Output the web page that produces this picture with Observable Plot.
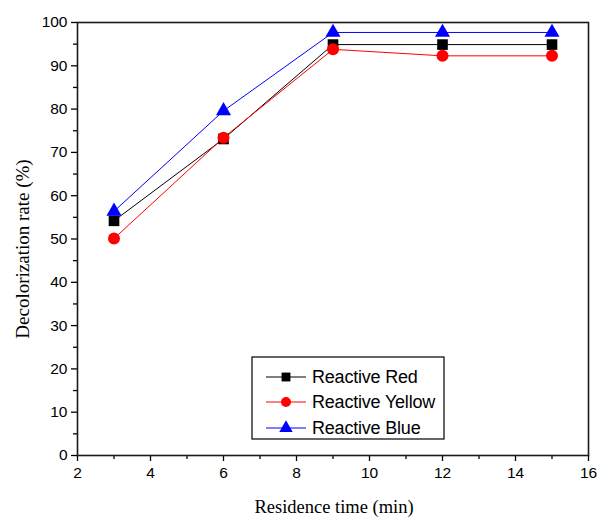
<!DOCTYPE html>
<html>
<head>
<meta charset="utf-8">
<script src="https://cdn.jsdelivr.net/npm/d3@7"></script>
<script src="https://cdn.jsdelivr.net/npm/@observablehq/plot@0.6"></script>
<style>
  html, body { margin: 0; padding: 0; background: #fff; }
  #wrap { position: relative; width: 597px; height: 517px; }
  #legend { position: absolute; left: 0; top: 0; }
</style>
</head>
<body>
<div id="wrap"></div>
<script>
const times = [3, 6, 9, 12, 15];
const reactiveRed = [54.2, 73.1, 94.9, 94.9, 94.9];
const reactiveYellow = [50.1, 73.4, 93.8, 92.3, 92.3];
const reactiveBlue = [56.4, 79.6, 97.7, 97.7, 97.7];
const seriesNames = ["Reactive Red", "Reactive Yellow", "Reactive Blue"];
const seriesColors = ["#000000", "#ff0000", "#0000ff"];
const seriesSymbols = ["square", "circle", "triangle"];
const xMajorTicks = [2, 4, 6, 8, 10, 12, 14, 16];
const xMinorTicks = [3, 5, 7, 9, 11, 13, 15];
const yMajorTicks = [0, 10, 20, 30, 40, 50, 60, 70, 80, 90, 100];
const yMinorTicks = [5, 15, 25, 35, 45, 55, 65, 75, 85, 95];
const xLabel = "Residence time (min)";
const yLabel = "Decolorization rate (%)";

const seriesValues = [reactiveRed, reactiveYellow, reactiveBlue];
const data = [];
seriesNames.forEach((name, i) => {
  times.forEach((t, j) => data.push({series: name, idx: i, time: t, rate: seriesValues[i][j]}));
});

const W = 597, H = 517;
const mL = 77, mR = 9, mT = 22, mB = 62;
const dotR = [6, 6, 5.6];

const chart = Plot.plot({
  width: W,
  height: H,
  marginLeft: mL,
  marginRight: mR,
  marginTop: mT,
  marginBottom: mB,
  style: {fontFamily: "'Liberation Sans', Arial, sans-serif", fontSize: "15.5px", color: "#000", background: "#fff"},
  x: {domain: [2, 16]},
  y: {domain: [0, 100]},
  marks: [
    Plot.axisX({ticks: xMajorTicks, tickSize: 6, tickPadding: 5, tickFormat: d => String(d), label: null, fontSize: 15.5, strokeWidth: 1.3}),
    Plot.axisX({ticks: xMinorTicks, tickSize: 4, tickFormat: () => "", label: null, strokeWidth: 1.3}),
    Plot.axisY({ticks: yMajorTicks, tickSize: 6, tickPadding: 4, tickFormat: d => String(d), label: null, fontSize: 15.5, strokeWidth: 1.3}),
    Plot.axisY({ticks: yMinorTicks, tickSize: 4, tickFormat: () => "", label: null, strokeWidth: 1.3}),
    Plot.frame({stroke: "#1a1a1a", strokeWidth: 1.6}),
    ...seriesNames.map((name, i) =>
      Plot.line(data.filter(d => d.idx === i), {x: "time", y: "rate", stroke: seriesColors[i], strokeWidth: 1})
    ),
    ...seriesNames.map((name, i) =>
      Plot.dot(data.filter(d => d.idx === i), {x: "time", y: "rate", fill: seriesColors[i], stroke: "none", symbol: seriesSymbols[i], r: dotR[i]})
    ),
    Plot.text([xLabel], {frameAnchor: "bottom", dy: 52, dx: 1, text: d => d, fontFamily: "'Liberation Serif', 'Times New Roman', serif", fontSize: 18.5, fill: "#000", lineAnchor: "middle", textAnchor: "middle"}),
    Plot.text([yLabel], {frameAnchor: "left", dx: -55, dy: 10, rotate: -90, textAnchor: "middle", text: d => d, fontFamily: "'Liberation Serif', 'Times New Roman', serif", fontSize: 19, fill: "#000"})
  ]
});

const wrap = document.getElementById("wrap");
wrap.appendChild(chart);

// Legend box (overlay SVG)
const lg = d3.select(wrap).append("svg")
  .attr("id", "legend")
  .attr("width", W).attr("height", H)
  .style("pointer-events", "none");
const bx = 252, by = 357, bw = 192, bh = 82;
lg.append("rect").attr("x", bx).attr("y", by).attr("width", bw).attr("height", bh)
  .attr("fill", "#fff").attr("stroke", "#000").attr("stroke-width", 1.2);
const rowY = [377, 402, 428];
const legR = [5, 5, 5];
seriesNames.forEach((name, i) => {
  const g = lg.append("g");
  g.append("line").attr("x1", 266).attr("x2", 306).attr("y1", rowY[i]).attr("y2", rowY[i])
    .attr("stroke", seriesColors[i]).attr("stroke-width", 1);
  const sym = {square: d3.symbolSquare, circle: d3.symbolCircle, triangle: d3.symbolTriangle}[seriesSymbols[i]];
  g.append("path").attr("d", d3.symbol(sym, Math.PI * legR[i] * legR[i])())
    .attr("transform", `translate(286,${rowY[i]})`).attr("fill", seriesColors[i]);
  g.append("text").attr("x", 312).attr("y", rowY[i]).attr("dy", "0.35em")
    .attr("font-family", "'Liberation Sans', Arial, sans-serif").attr("font-size", 18)
    .attr("letter-spacing", -0.2)
    .attr("fill", "#000").text(name);
});
</script>
</body>
</html>
